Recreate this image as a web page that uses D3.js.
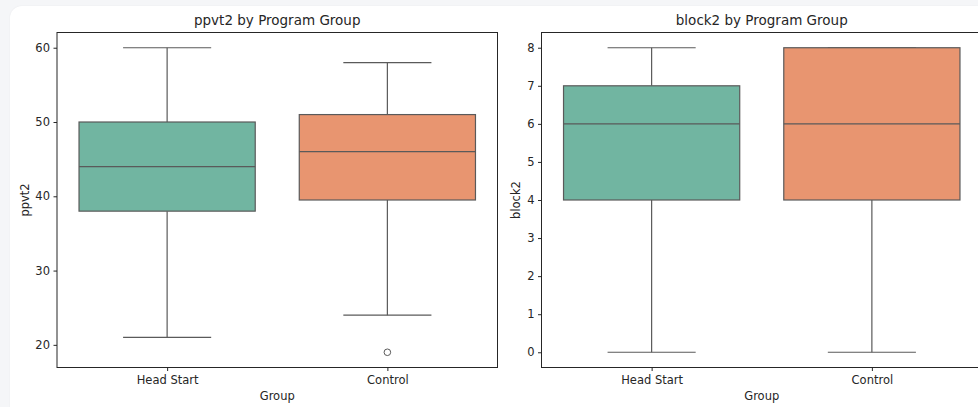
<!DOCTYPE html>
<html>
<head>
<meta charset="utf-8">
<script src="https://cdn.jsdelivr.net/npm/d3@7"></script>
<style>
  html, body { margin: 0; padding: 0; }
  body { width: 978px; height: 407px; background: #f5f6f8; position: relative; overflow: hidden; font-family: "DejaVu Sans", sans-serif; }
  #card { position: absolute; left: 10px; top: 6px; width: 1000px; height: 440px; background: #fff; border-radius: 12px; box-shadow: 0 0 2px rgba(0,0,0,0.06); }
  #chart { position: absolute; left: 0; top: 0; }
</style>
</head>
<body>
<div id="card"></div>
<div id="chart"></div>
<script>
// categories
const groups = ["Head Start", "Control"];
const groupColors = ["#71b5a1", "#e89570"];

// ppvt2 summary per group
const ppvt2Low = [21, 24];
const ppvt2Q1 = [38, 39.5];
const ppvt2Median = [44, 46];
const ppvt2Q3 = [50, 51];
const ppvt2High = [60, 58];
const ppvt2Outliers = [[], [19]];
const ppvt2Ticks = [20, 30, 40, 50, 60];

// block2 summary per group
const block2Low = [0, 0];
const block2Q1 = [4, 4];
const block2Median = [6, 6];
const block2Q3 = [7, 8];
const block2High = [8, 8];
const block2Outliers = [[], []];
const block2Ticks = [0, 1, 2, 3, 4, 5, 6, 7, 8];

const W = 978, H = 407;
const lineColor = "#5a5a5a";

const svg = d3.select("#chart").append("svg")
  .attr("width", W)
  .attr("height", H)
  .style("font-family", "'DejaVu Sans', sans-serif");

function drawPanel(opts) {
  const left = opts.left, right = opts.right, top = 32.5, bottom = 367.5;

  // build rows for the boxes
  const rows = groups.map((g, i) => ({
    group: g, i: i,
    low: opts.low[i], q1: opts.q1[i], med: opts.median[i], q3: opts.q3[i], high: opts.high[i],
    outliers: opts.outliers[i]
  }));

  // matplotlib style 5% padding on the data range
  const allVals = rows.flatMap(d => [d.low, d.high, ...d.outliers]);
  const lo = d3.min(allVals), hi = d3.max(allVals);
  const pad = (hi - lo) * 0.05;

  const x = d3.scaleLinear([-0.5, groups.length - 0.5], [left, right]);
  const y = d3.scaleLinear([lo - pad, hi + pad], [bottom, top]);
  const boxW = x(0.8) - x(0);
  const capW = boxW / 2;

  const g = svg.append("g");

  // whiskers
  rows.forEach(d => {
    const cx = x(d.i);
    g.append("line").attr("x1", cx).attr("x2", cx).attr("y1", y(d.q3)).attr("y2", y(d.high))
      .attr("stroke", lineColor).attr("stroke-width", 1.2);
    g.append("line").attr("x1", cx).attr("x2", cx).attr("y1", y(d.q1)).attr("y2", y(d.low))
      .attr("stroke", lineColor).attr("stroke-width", 1.2);
    g.append("line").attr("x1", cx - capW / 2).attr("x2", cx + capW / 2).attr("y1", y(d.high)).attr("y2", y(d.high))
      .attr("stroke", lineColor).attr("stroke-width", 1.2);
    g.append("line").attr("x1", cx - capW / 2).attr("x2", cx + capW / 2).attr("y1", y(d.low)).attr("y2", y(d.low))
      .attr("stroke", lineColor).attr("stroke-width", 1.2);
  });

  // boxes
  g.selectAll("rect.box")
    .data(rows)
    .enter()
    .append("rect")
      .attr("class", "box")
      .attr("x", d => x(d.i) - boxW / 2)
      .attr("width", boxW)
      .attr("y", d => y(d.q3))
      .attr("height", d => y(d.q1) - y(d.q3))
      .attr("fill", d => groupColors[d.i])
      .attr("stroke", lineColor)
      .attr("stroke-width", 1.2);

  // medians
  g.selectAll("line.median")
    .data(rows)
    .enter()
    .append("line")
      .attr("class", "median")
      .attr("x1", d => x(d.i) - boxW / 2)
      .attr("x2", d => x(d.i) + boxW / 2)
      .attr("y1", d => y(d.med))
      .attr("y2", d => y(d.med))
      .attr("stroke", lineColor)
      .attr("stroke-width", 1.2);

  // outliers
  rows.forEach(d => {
    d.outliers.forEach(v => {
      g.append("circle").attr("cx", x(d.i)).attr("cy", y(v)).attr("r", 3.3)
        .attr("fill", "none").attr("stroke", lineColor).attr("stroke-width", 1);
    });
  });

  // frame
  g.append("rect")
    .attr("x", left).attr("y", top)
    .attr("width", right - left).attr("height", bottom - top)
    .attr("fill", "none").attr("stroke", "#262626").attr("stroke-width", 1);

  // y axis
  const yAxis = svg.append("g")
    .attr("transform", `translate(${left},0)`)
    .call(d3.axisLeft(y).tickValues(opts.ticks).tickSize(3.5).tickPadding(3.5).tickSizeOuter(0));
  yAxis.select(".domain").remove();
  yAxis.selectAll("line").attr("stroke", "#262626");
  yAxis.selectAll("text").attr("font-size", 11.5).attr("fill", "#262626").attr("font-family", "'DejaVu Sans', sans-serif");

  // x axis
  const xAxis = svg.append("g")
    .attr("transform", `translate(0,${bottom})`)
    .call(d3.axisBottom(x).tickValues(groups.map((d, i) => i)).tickFormat(i => groups[i]).tickSize(3.5).tickPadding(5).tickSizeOuter(0));
  xAxis.select(".domain").remove();
  xAxis.selectAll("line").attr("stroke", "#262626");
  xAxis.selectAll("text").attr("font-size", 11.5).attr("fill", "#262626").attr("font-family", "'DejaVu Sans', sans-serif");

  // title
  svg.append("text")
    .attr("x", (left + right) / 2)
    .attr("y", 25)
    .attr("text-anchor", "middle")
    .attr("font-size", 13.5)
    .attr("fill", "#262626")
    .text(opts.title);

  // x label
  svg.append("text")
    .attr("x", (left + right) / 2)
    .attr("y", 400)
    .attr("text-anchor", "middle")
    .attr("font-size", 11.5)
    .attr("fill", "#262626")
    .text("Group");

  // y label
  svg.append("text")
    .attr("transform", `translate(${opts.ylabelX},${(top + bottom) / 2}) rotate(-90)`)
    .attr("text-anchor", "middle")
    .attr("font-size", 11.5)
    .attr("fill", "#262626")
    .text(opts.ylabel);
}

drawPanel({
  left: 57, right: 497.5, title: "ppvt2 by Program Group", ylabel: "ppvt2", ylabelX: 29,
  low: ppvt2Low, q1: ppvt2Q1, median: ppvt2Median, q3: ppvt2Q3, high: ppvt2High,
  outliers: ppvt2Outliers, ticks: ppvt2Ticks
});

drawPanel({
  left: 541.5, right: 982, title: "block2 by Program Group", ylabel: "block2", ylabelX: 520,
  low: block2Low, q1: block2Q1, median: block2Median, q3: block2Q3, high: block2High,
  outliers: block2Outliers, ticks: block2Ticks
});
</script>
</body>
</html>
